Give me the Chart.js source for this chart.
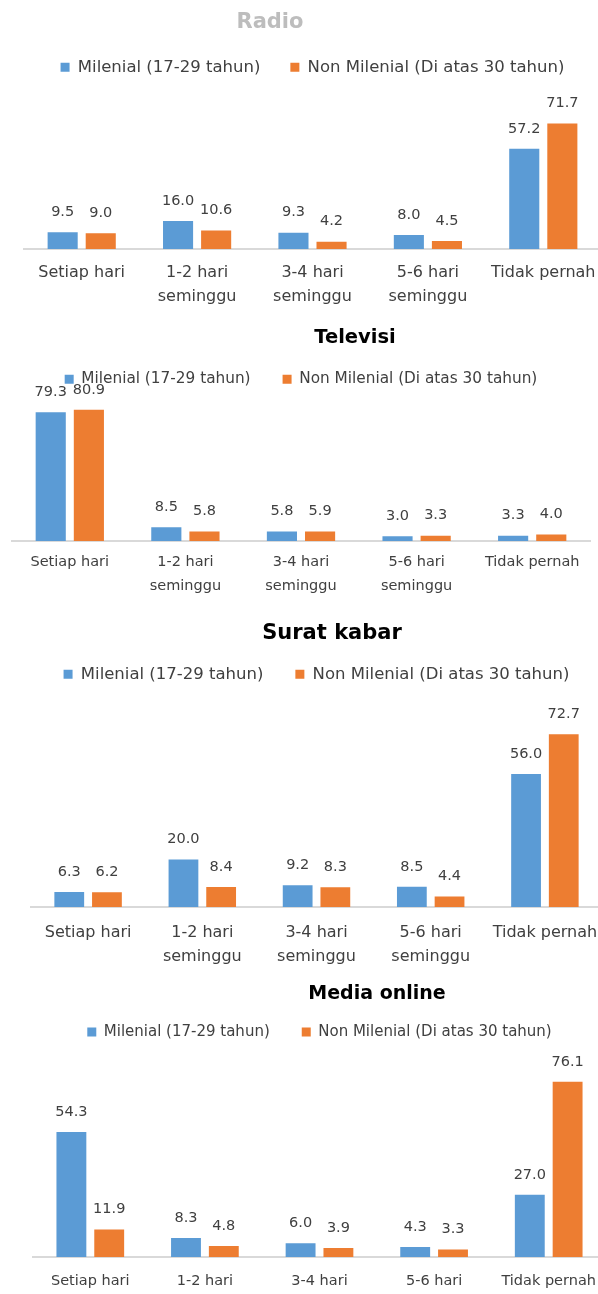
<!DOCTYPE html>
<html>
<head>
<meta charset="utf-8">
<script src="https://cdn.jsdelivr.net/npm/chart.js@4.4.1/dist/chart.umd.min.js"></script>
<style>
  html, body { margin: 0; padding: 0; background: #fff; }
  body { width: 598px; height: 1294px; overflow: hidden; position: relative; }
  canvas { position: absolute; left: 0; }
</style>
</head>
<body>
<canvas id="radio" width="640" height="325" style="top:0px"></canvas>
<canvas id="tv" width="640" height="301" style="top:310px"></canvas>
<canvas id="koran" width="640" height="387" style="top:600px"></canvas>
<canvas id="online" width="640" height="368" style="top:965px"></canvas>
<script>
// Categories and series names (shared by all four charts)
const categories = [["Setiap hari"], ["1-2 hari", "seminggu"], ["3-4 hari", "seminggu"], ["5-6 hari", "seminggu"], ["Tidak pernah"]];
const seriesNames = ["Milenial (17-29 tahun)", "Non Milenial (Di atas 30 tahun)"];

// Values per medium (percent)
const radioMilenial = [9.5, 16.0, 9.3, 8.0, 57.2];
const radioNonMilenial = [9.0, 10.6, 4.2, 4.5, 71.7];
const tvMilenial = [79.3, 8.5, 5.8, 3.0, 3.3];
const tvNonMilenial = [80.9, 5.8, 5.9, 3.3, 4.0];
const koranMilenial = [6.3, 20.0, 9.2, 8.5, 56.0];
const koranNonMilenial = [6.2, 8.4, 8.3, 4.4, 72.7];
const onlineMilenial = [54.3, 8.3, 6.0, 4.3, 27.0];
const onlineNonMilenial = [11.9, 4.8, 3.9, 3.3, 76.1];

const FONT = '"DejaVu Sans", Verdana, sans-serif';
const TEXT = '#404040';
const BLUE = '#5b9bd5';
const ORANGE = '#ed7d31';

// Draws the number above every bar
const valueLabels = {
    id: 'valueLabels',
    afterDatasetsDraw(chart, args, opts) {
        const ctx = chart.ctx;
        ctx.save();
        ctx.font = opts.size + 'px ' + FONT;
        ctx.fillStyle = TEXT;
        ctx.textAlign = 'center';
        ctx.textBaseline = 'middle';
        chart.data.datasets.forEach(function (ds, i) {
            chart.getDatasetMeta(i).data.forEach(function (bar, j) {
                ctx.fillText(ds.data[j].toFixed(1), bar.x, bar.y - opts.gap);
            });
        });
        ctx.restore();
    }
};

// Title drawn off-centre like the original
const chartTitle = {
    id: 'chartTitle',
    afterDraw(chart, args, opts) {
        const ctx = chart.ctx;
        ctx.save();
        ctx.font = 'bold ' + opts.size + 'px ' + FONT;
        ctx.fillStyle = opts.color;
        ctx.textAlign = 'center';
        ctx.textBaseline = 'middle';
        ctx.fillText(opts.text, opts.x, opts.y);
        ctx.restore();
    }
};

function makeChart(id, title, milenial, nonMilenial, s) {
    return new Chart(document.getElementById(id), {
        type: 'bar',
        data: {
            labels: categories,
            datasets: [
                { label: seriesNames[0], data: milenial, backgroundColor: BLUE, borderWidth: 0 },
                { label: seriesNames[1], data: nonMilenial, backgroundColor: ORANGE, borderWidth: 0 }
            ]
        },
        options: {
            responsive: false,
            animation: false,
            layout: { padding: { left: s.left, right: s.right, top: s.top, bottom: s.bottom } },
            datasets: { bar: { categoryPercentage: 0.66, barPercentage: 0.79 } },
            plugins: {
                legend: {
                    position: 'top',
                    labels: {
                        boxWidth: 9, boxHeight: 9, padding: s.legendPad, color: TEXT,
                        font: { family: FONT, size: s.legendSize }
                    }
                },
                tooltip: { enabled: false },
                valueLabels: { size: s.valueSize, gap: 20 },
                chartTitle: { text: title, x: s.titleX, y: s.titleY, size: s.titleSize, color: s.titleColor }
            },
            scales: {
                x: {
                    grid: { display: false, drawTicks: false },
                    border: { display: true, color: '#d9d9d9', width: 2 },
                    ticks: {
                        color: TEXT, padding: s.tickPad, maxRotation: 0, autoSkip: false,
                        font: { family: FONT, size: s.tickSize, lineHeight: 24 / s.tickSize }
                    }
                },
                y: { display: false, min: 0, max: s.max }
            }
        },
        plugins: [valueLabels, chartTitle]
    });
}

makeChart('radio', 'Radio', radioMilenial, radioNonMilenial, {
    left: 24, right: 39, top: 29, bottom: 4, max: 93.4,
    legendSize: 16.5, legendPad: 30, valueSize: 14.5, tickSize: 16, tickPad: 12,
    titleX: 270, titleY: 23, titleSize: 21, titleColor: '#bdbdbd'
});
makeChart('tv', 'Televisi', tvMilenial, tvNonMilenial, {
    left: 12, right: 50, top: 29.5, bottom: 4, max: 88.9,
    legendSize: 15.3, legendPad: 32, valueSize: 14.5, tickSize: 14.5, tickPad: 9,
    titleX: 355, titleY: 28, titleSize: 19.5, titleColor: '#000'
});
makeChart('koran', 'Surat kabar', koranMilenial, koranNonMilenial, {
    left: 31, right: 38, top: 34, bottom: 4, max: 90.3,
    legendSize: 16.5, legendPad: 32, valueSize: 14.5, tickSize: 16, tickPad: 14,
    titleX: 332, titleY: 34, titleSize: 21, titleColor: '#000'
});
makeChart('online', 'Media online', onlineMilenial, onlineNonMilenial, {
    left: 33, right: 34, top: 27.5, bottom: 4, max: 90.1,
    legendSize: 15, legendPad: 32, valueSize: 14.5, tickSize: 14.5, tickPad: 12,
    titleX: 377, titleY: 29, titleSize: 19, titleColor: '#000'
});
</script>
</body>
</html>
